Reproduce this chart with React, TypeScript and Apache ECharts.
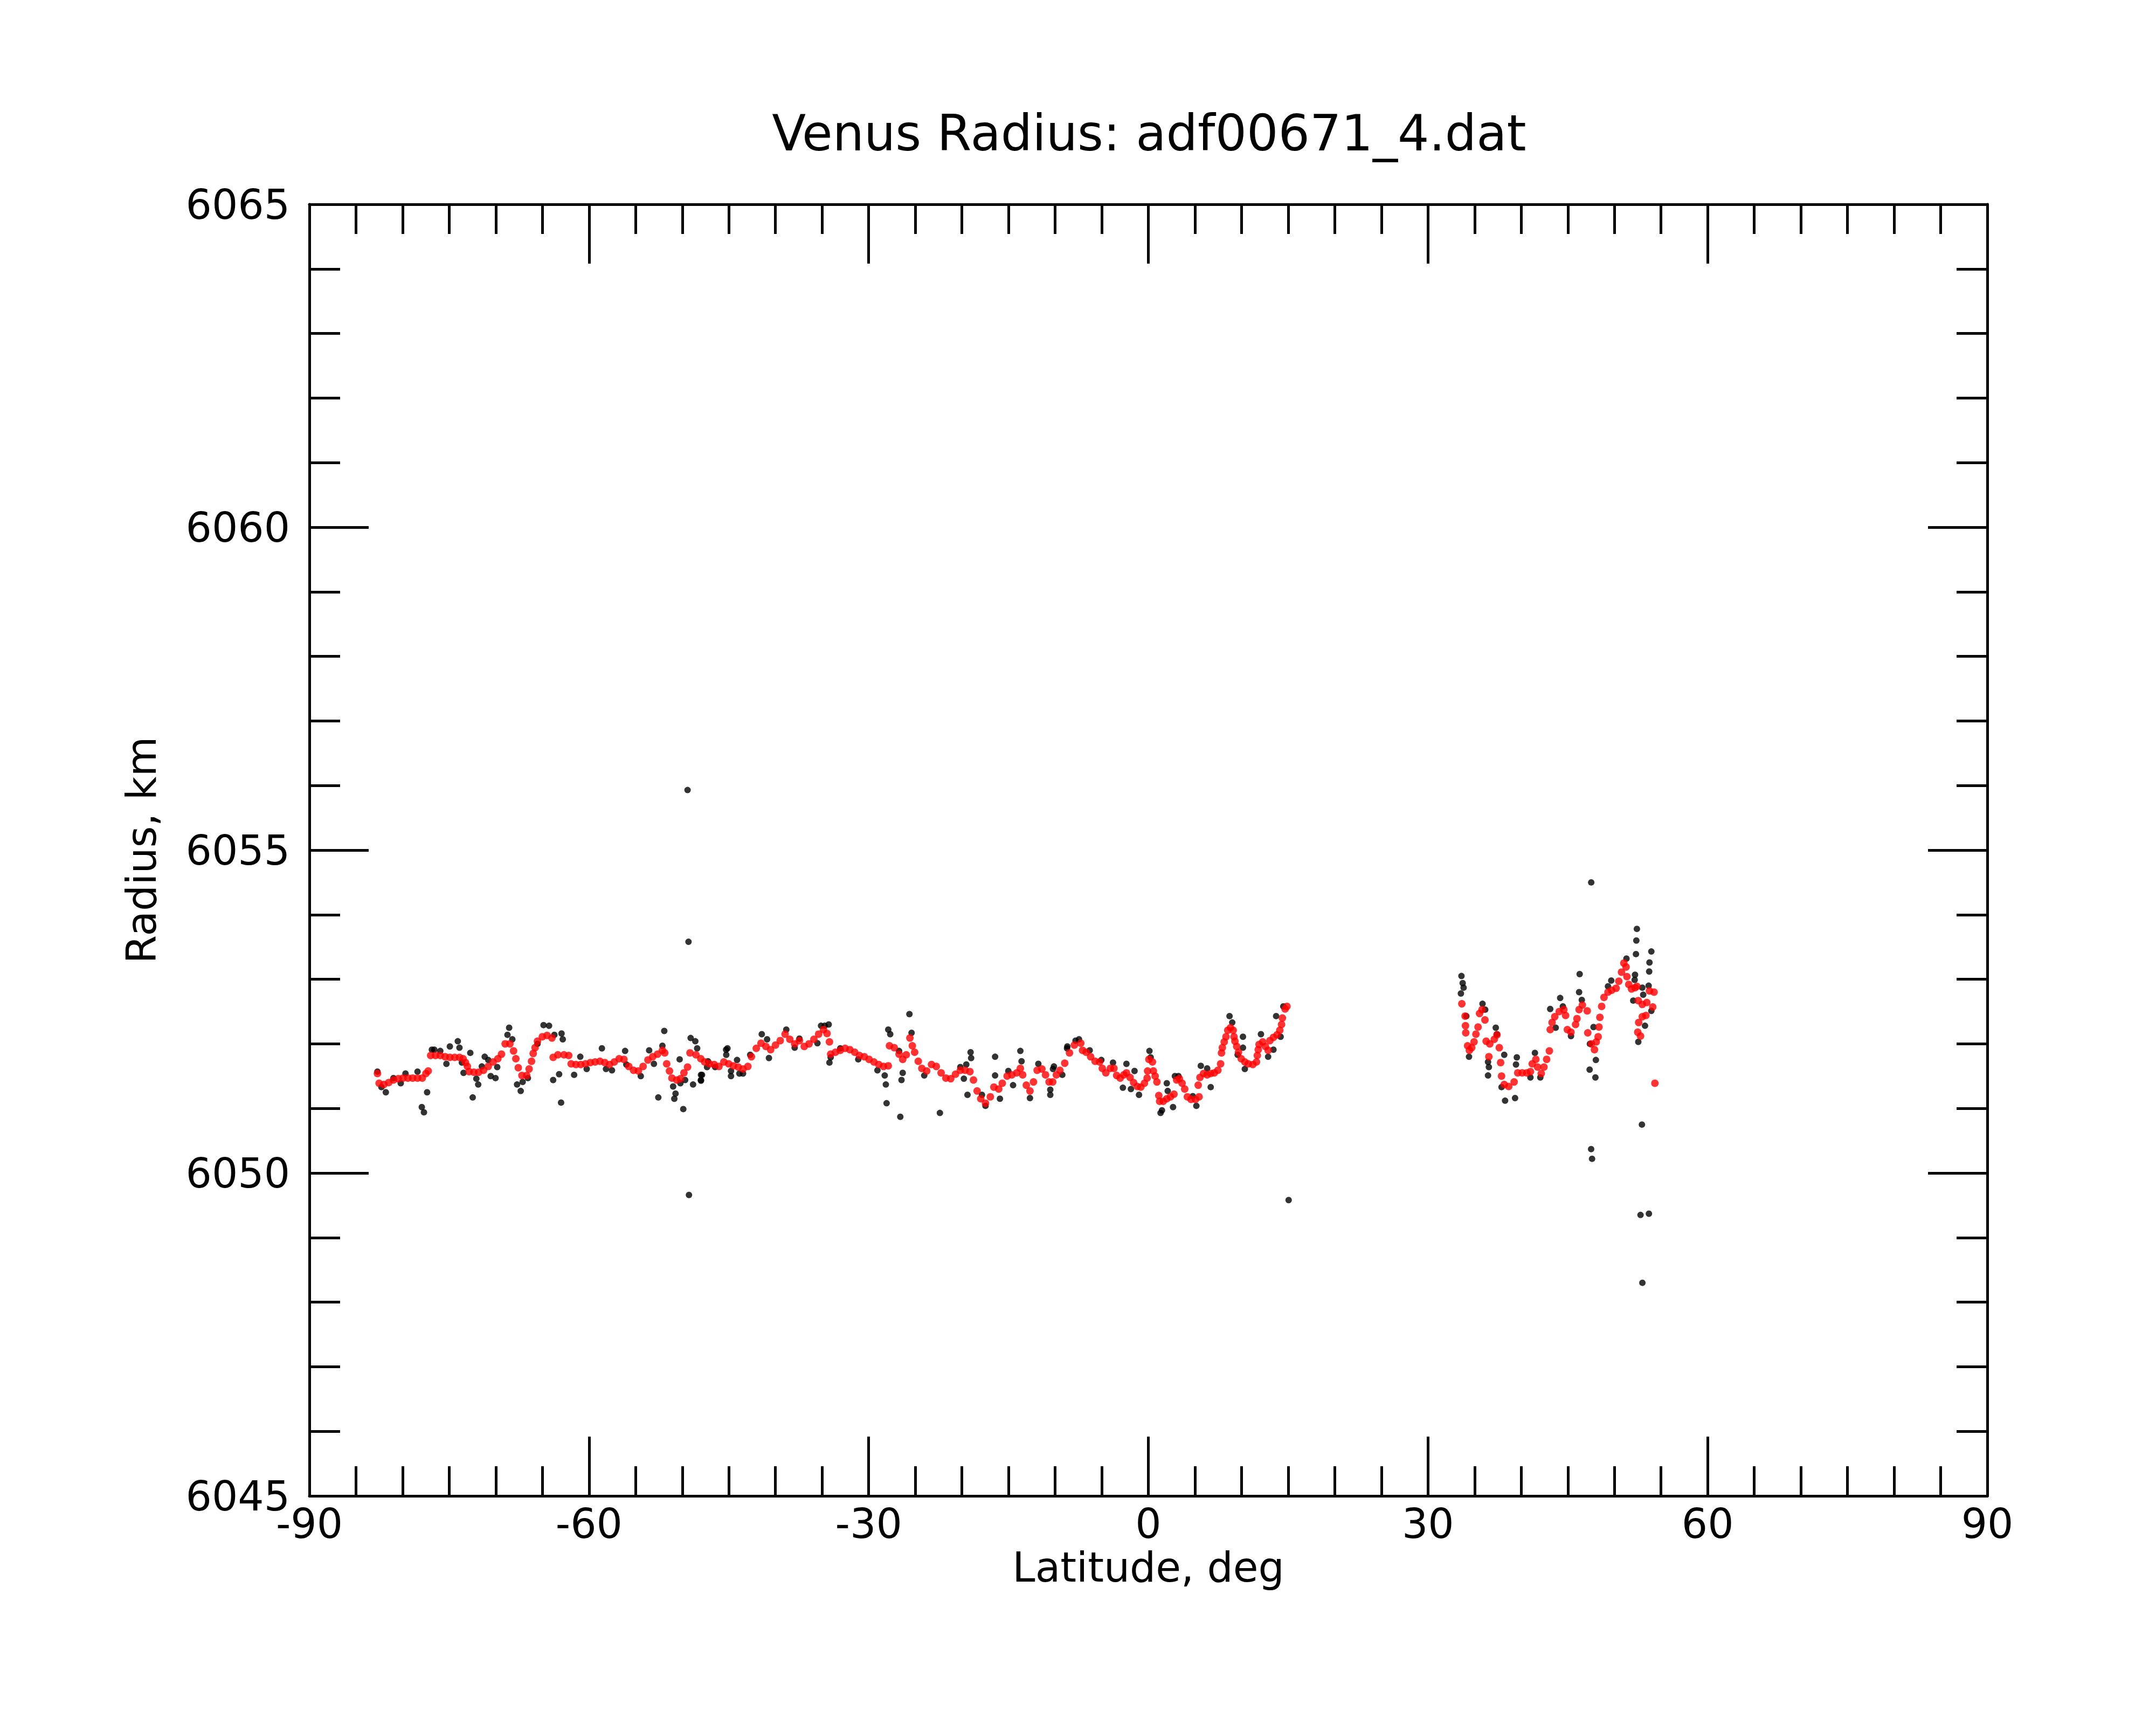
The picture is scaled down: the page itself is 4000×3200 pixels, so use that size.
import React, { useEffect, useRef } from "react";
import * as echarts from "echarts";

const TITLE = "Venus Radius: adf00671_4.dat";
const X_NAME = "Latitude, deg";
const Y_NAME = "Radius, km";
const FONT = "DejaVu Sans";

// smoothed profile (red), [latitude, radius]
const redSouth: [number, number][] = [
  [-82.7, 6051.54], [-82.52, 6051.39], [-82.01, 6051.37], [-81.49, 6051.4], [-80.98, 6051.44], [-80.46, 6051.46],
  [-79.95, 6051.47], [-79.43, 6051.47], [-78.92, 6051.47], [-78.4, 6051.47], [-77.89, 6051.47], [-77.5, 6051.54],
  [-77.25, 6051.58], [-76.99, 6051.82], [-76.47, 6051.82], [-75.96, 6051.82], [-75.44, 6051.8], [-74.93, 6051.79],
  [-74.41, 6051.79], [-73.9, 6051.79], [-73.51, 6051.77], [-73.25, 6051.71], [-73.05, 6051.65], [-72.87, 6051.57],
  [-72.35, 6051.56], [-71.84, 6051.56], [-71.32, 6051.59], [-70.81, 6051.65], [-70.29, 6051.72], [-69.78, 6051.77],
  [-69.39, 6051.84], [-69.0, 6052.0], [-68.49, 6052.0], [-68.1, 6051.89], [-67.85, 6051.77], [-67.59, 6051.63],
  [-67.2, 6051.51], [-66.69, 6051.51], [-66.43, 6051.61], [-66.17, 6051.73], [-65.99, 6051.85], [-65.79, 6051.94],
  [-65.53, 6052.04], [-65.01, 6052.11], [-64.5, 6052.13], [-63.98, 6052.09], [-63.85, 6051.79], [-63.34, 6051.83],
  [-62.69, 6051.83], [-62.18, 6051.82], [-61.92, 6051.69], [-61.41, 6051.68], [-60.89, 6051.68], [-60.38, 6051.69],
  [-59.86, 6051.71], [-59.35, 6051.72], [-58.83, 6051.73], [-58.31, 6051.71], [-57.8, 6051.68], [-57.29, 6051.72],
  [-56.77, 6051.77], [-56.26, 6051.76], [-55.74, 6051.65], [-55.22, 6051.59], [-54.71, 6051.58], [-54.2, 6051.65],
  [-53.68, 6051.75], [-53.17, 6051.8], [-52.65, 6051.84], [-52.13, 6051.9], [-51.88, 6051.86], [-51.67, 6051.69],
  [-51.37, 6051.58], [-51.11, 6051.47], [-50.59, 6051.44], [-50.2, 6051.46], [-49.82, 6051.55], [-49.43, 6051.64],
  [-49.17, 6051.86], [-48.53, 6051.83], [-48.01, 6051.77], [-47.6, 6051.72], [-47.09, 6051.69], [-46.57, 6051.68],
  [-46.06, 6051.65], [-45.54, 6051.72], [-45.02, 6051.69], [-44.51, 6051.66], [-43.99, 6051.64], [-43.48, 6051.61],
  [-42.96, 6051.65], [-42.58, 6051.8], [-42.06, 6051.93], [-41.55, 6052.01], [-41.03, 6051.96], [-40.52, 6051.91],
  [-40.0, 6051.98], [-39.49, 6052.05], [-38.97, 6052.15], [-38.46, 6052.07], [-37.94, 6052.0], [-37.43, 6052.05],
  [-36.91, 6051.96], [-36.4, 6052.0], [-35.88, 6052.07], [-35.37, 6052.15], [-34.85, 6052.22], [-34.47, 6052.16],
  [-34.21, 6052.03], [-34.08, 6051.84], [-33.57, 6051.87], [-33.05, 6051.9], [-32.53, 6051.93], [-32.02, 6051.91],
  [-31.5, 6051.87], [-30.99, 6051.82], [-30.47, 6051.8], [-29.96, 6051.76], [-29.44, 6051.72], [-28.92, 6051.68],
  [-28.41, 6051.65], [-27.9, 6051.66], [-27.77, 6051.97], [-27.26, 6051.94], [-26.74, 6051.84], [-26.35, 6051.76],
  [-25.97, 6051.83], [-25.58, 6052.09], [-25.32, 6051.97], [-25.07, 6051.87], [-24.68, 6051.73], [-24.3, 6051.62],
  [-23.78, 6051.58], [-23.26, 6051.68], [-22.75, 6051.65], [-22.23, 6051.55], [-21.72, 6051.47], [-21.2, 6051.46],
  [-20.69, 6051.53], [-20.17, 6051.59], [-19.66, 6051.59], [-19.14, 6051.57], [-18.76, 6051.44], [-18.37, 6051.27],
  [-17.98, 6051.15], [-17.47, 6051.08], [-16.95, 6051.18], [-16.57, 6051.33], [-16.05, 6051.3], [-15.67, 6051.39],
  [-15.15, 6051.5], [-14.64, 6051.52], [-14.12, 6051.55], [-13.73, 6051.62], [-13.48, 6051.52], [-13.09, 6051.36],
  [-12.7, 6051.27], [-12.32, 6051.41], [-11.93, 6051.59], [-11.42, 6051.61], [-11.03, 6051.52], [-10.65, 6051.41],
  [-10.26, 6051.41], [-9.87, 6051.52], [-9.49, 6051.59], [-8.97, 6051.7], [-8.46, 6051.86], [-7.94, 6051.98],
  [-7.25, 6052.01], [-7.06, 6051.9], [-6.67, 6051.87], [-6.19, 6051.8], [-5.71, 6051.73], [-5.23, 6051.72],
  [-4.94, 6051.62], [-4.56, 6051.55], [-4.08, 6051.62], [-3.69, 6051.62], [-3.4, 6051.51], [-3.02, 6051.47],
  [-2.63, 6051.52], [-2.35, 6051.55], [-1.96, 6051.48], [-1.58, 6051.4], [-1.19, 6051.34], [-0.81, 6051.33],
  [-0.42, 6051.39], [-0.13, 6051.47], [-0.08, 6051.58], [0.06, 6051.76], [0.44, 6051.72], [0.54, 6051.58],
  [0.73, 6051.5], [0.92, 6051.41], [1.12, 6051.2], [1.21, 6051.11], [1.6, 6051.11], [1.98, 6051.15],
  [2.37, 6051.18], [2.75, 6051.22], [3.04, 6051.44], [3.33, 6051.46], [3.62, 6051.39], [3.9, 6051.3],
  [4.19, 6051.18], [4.58, 6051.14], [5.06, 6051.14], [5.44, 6051.18], [5.35, 6051.36], [5.54, 6051.48],
  [5.92, 6051.54], [6.31, 6051.52], [6.69, 6051.54], [7.08, 6051.55], [7.46, 6051.59], [7.75, 6051.69],
  [7.85, 6051.86], [7.94, 6051.94], [8.14, 6052.03], [8.33, 6052.11], [8.52, 6052.21], [8.81, 6052.25],
  [9.1, 6052.21], [9.19, 6052.11], [9.29, 6052.04], [9.48, 6051.96], [9.67, 6051.87], [9.96, 6051.77],
  [10.35, 6051.72], [10.73, 6051.69], [11.21, 6051.68], [11.6, 6051.72], [11.69, 6051.82], [11.79, 6051.91],
  [11.88, 6051.99], [12.27, 6052.03], [12.56, 6051.96], [12.85, 6051.9], [13.04, 6052.05], [13.42, 6052.1],
  [13.81, 6052.14], [14.1, 6052.21], [14.29, 6052.3], [14.38, 6052.4], [14.67, 6052.54], [14.87, 6052.58],
];

const redNorth: [number, number][] = [
  [33.63, 6052.62], [33.98, 6052.43], [34.02, 6052.28], [34.05, 6052.17], [34.25, 6051.97], [34.44, 6051.9],
  [34.69, 6051.94], [34.94, 6052.03], [35.14, 6052.15], [35.37, 6052.26], [35.53, 6052.47], [35.8, 6052.53],
  [36.11, 6052.37], [36.24, 6052.04], [36.53, 6051.8], [36.63, 6052.0], [37.11, 6052.07], [37.4, 6052.14],
  [37.65, 6051.94], [37.79, 6051.71], [37.89, 6051.5], [38.18, 6051.37], [38.66, 6051.34], [39.24, 6051.41],
  [39.63, 6051.55], [40.11, 6051.55], [40.6, 6051.55], [40.99, 6051.57], [41.18, 6051.69], [41.57, 6051.76],
  [41.76, 6051.64], [42.15, 6051.54], [42.44, 6051.64], [42.73, 6051.76], [43.02, 6051.89], [43.11, 6052.22],
  [43.31, 6052.33], [43.6, 6052.42], [44.08, 6052.5], [44.57, 6052.53], [44.76, 6052.44], [44.95, 6052.22],
  [45.34, 6052.18], [45.83, 6052.3], [45.98, 6052.39], [46.21, 6052.53], [46.56, 6052.6], [47.08, 6052.51],
  [47.14, 6052.17], [47.53, 6052.0], [47.86, 6051.91], [48.05, 6052.03], [48.25, 6052.11], [48.34, 6052.26],
  [48.44, 6052.41], [48.63, 6052.58], [48.88, 6052.72], [49.31, 6052.8], [49.7, 6052.83], [50.18, 6052.86],
  [50.47, 6052.97], [50.76, 6053.11], [51.01, 6053.25], [51.25, 6053.19], [51.34, 6053.04], [51.54, 6052.92],
  [51.83, 6052.85], [52.21, 6052.87], [52.41, 6052.89], [52.56, 6052.67], [52.99, 6052.61], [53.47, 6052.64],
  [53.76, 6052.82], [54.25, 6052.8], [54.11, 6052.57], [53.38, 6052.44], [52.99, 6052.42], [52.6, 6052.33],
  [52.5, 6052.18], [52.8, 6052.12], [54.34, 6051.39],
];

// raw measurements (black), [latitude, radius]
const blackSouth: [number, number][] = [
  [-82.7, 6051.57], [-82.27, 6051.33], [-81.8, 6051.25], [-80.98, 6051.47], [-80.2, 6051.39], [-79.69, 6051.54],
  [-78.4, 6051.57], [-77.94, 6051.02], [-77.71, 6050.94], [-77.37, 6051.25], [-76.86, 6051.91], [-76.6, 6051.91],
  [-75.96, 6051.89], [-75.3, 6051.69], [-74.93, 6051.96], [-74.08, 6052.04], [-73.9, 6051.94], [-73.64, 6051.71],
  [-73.46, 6051.55], [-72.74, 6051.86], [-72.48, 6051.17], [-72.09, 6051.46], [-71.89, 6051.37], [-71.5, 6051.65],
  [-71.19, 6051.8], [-70.81, 6051.75], [-70.55, 6051.5], [-70.03, 6051.47], [-69.85, 6051.64], [-68.75, 6052.14],
  [-68.57, 6052.25], [-68.23, 6052.07], [-67.72, 6051.37], [-67.33, 6051.27], [-67.12, 6051.41], [-66.56, 6051.47],
  [-65.53, 6052.0], [-64.88, 6052.29], [-64.29, 6052.28], [-63.72, 6052.14], [-62.95, 6052.16], [-62.82, 6052.07],
  [-63.85, 6051.44], [-63.21, 6051.53], [-63.0, 6051.09], [-61.6, 6051.52], [-60.94, 6051.8], [-60.25, 6051.61],
  [-58.62, 6051.93], [-58.18, 6051.61], [-57.54, 6051.59], [-56.13, 6051.89], [-56.0, 6051.68], [-54.45, 6051.5],
  [-53.55, 6051.9], [-53.04, 6051.69], [-52.57, 6051.17], [-52.13, 6051.97], [-51.93, 6052.2], [-50.98, 6051.34],
  [-50.85, 6051.15], [-50.72, 6051.23], [-50.28, 6051.76], [-50.2, 6051.39], [-49.89, 6050.99], [-49.69, 6051.44],
  [-49.1, 6052.09], [-48.6, 6052.04], [-48.4, 6051.93], [-48.84, 6051.37], [-48.0, 6051.44], [-47.88, 6051.52],
  [-47.24, 6051.73], [-46.47, 6051.64], [-45.3, 6051.91], [-49.43, 6055.93], [-49.33, 6053.58], [-49.28, 6049.66],
  [-47.99, 6051.52], [-47.99, 6051.43], [-47.34, 6051.64], [-45.28, 6051.83], [-45.15, 6051.93], [-44.77, 6051.58],
  [-44.77, 6051.5], [-44.12, 6051.75], [-43.87, 6051.54], [-43.48, 6051.54], [-42.71, 6051.83], [-41.47, 6052.15],
  [-40.9, 6052.07], [-40.7, 6051.78], [-38.84, 6052.22], [-37.94, 6051.94], [-37.43, 6052.08], [-35.5, 6052.01],
  [-35.11, 6052.28], [-34.72, 6052.28], [-34.29, 6052.3], [-34.21, 6051.71], [-34.08, 6051.79], [-33.05, 6051.93],
  [-31.12, 6051.76], [-29.06, 6051.59], [-28.28, 6051.51], [-28.16, 6051.37], [-28.08, 6051.08], [-27.9, 6052.22],
  [-27.69, 6052.15], [-26.74, 6051.89], [-26.61, 6050.87], [-26.35, 6051.55], [-26.48, 6051.44], [-25.63, 6052.46],
  [-25.4, 6052.17], [-24.04, 6051.51], [-22.36, 6050.93], [-20.17, 6051.64], [-19.79, 6051.46], [-19.53, 6051.68],
  [-19.4, 6051.21], [-19.07, 6051.87], [-19.01, 6051.78], [-17.85, 6051.21], [-17.47, 6051.04], [-16.44, 6051.8],
  [-16.44, 6051.51], [-15.92, 6051.15], [-15.02, 6051.58], [-14.51, 6051.36], [-13.73, 6051.89], [-13.6, 6051.73],
  [-12.7, 6051.16], [-11.8, 6051.69], [-10.52, 6051.21], [-10.52, 6051.29], [-10.13, 6051.65], [-9.23, 6051.52],
  [-8.72, 6051.93], [-7.81, 6052.05], [-10.23, 6051.61], [-8.69, 6051.96], [-7.44, 6052.07], [-6.29, 6051.9],
  [-5.04, 6051.75], [-3.79, 6051.71], [-2.73, 6051.32], [-2.35, 6051.69], [-1.87, 6051.3], [-1.48, 6051.58],
  [-1.0, 6051.21], [0.12, 6051.89], [0.25, 6051.79], [1.31, 6050.93], [1.46, 6050.97], [1.98, 6051.39],
  [2.08, 6051.27], [2.65, 6051.02], [2.85, 6051.5], [3.23, 6051.5], [5.15, 6051.04], [4.77, 6051.19],
  [5.63, 6051.66], [6.31, 6051.62], [6.69, 6051.33], [8.71, 6052.43], [9.0, 6052.33], [9.58, 6051.83],
  [10.15, 6052.11], [10.15, 6051.94], [10.35, 6051.61], [12.08, 6052.15], [12.85, 6051.8], [13.42, 6051.91],
  [13.71, 6052.43], [14.19, 6052.11], [14.48, 6052.58], [15.05, 6049.58],
];

const blackNorth: [number, number][] = [
  [33.59, 6053.05], [33.72, 6052.94], [33.82, 6052.87], [33.53, 6052.78], [34.11, 6052.43], [34.4, 6051.8],
  [35.85, 6052.62], [36.14, 6052.53], [37.27, 6052.25], [37.4, 6052.15], [36.44, 6051.72], [36.53, 6051.64],
  [36.44, 6051.51], [38.18, 6051.83], [37.89, 6051.33], [38.27, 6051.12], [39.34, 6051.16], [39.53, 6051.79],
  [39.44, 6051.68], [41.47, 6051.86], [40.99, 6051.48], [42.05, 6051.48], [43.11, 6052.54], [44.18, 6052.71],
  [44.47, 6052.58], [43.7, 6052.25], [45.34, 6052.12], [46.27, 6053.08], [46.21, 6052.8], [46.5, 6052.68],
  [47.76, 6052.26], [47.37, 6052.0], [48.01, 6051.75], [47.34, 6051.6], [47.96, 6051.48], [49.66, 6052.98],
  [49.31, 6052.89], [51.29, 6053.32], [52.41, 6053.78], [52.35, 6053.6], [52.31, 6053.39], [52.21, 6053.07],
  [52.17, 6052.99], [52.02, 6052.67], [52.99, 6052.87], [53.09, 6052.76], [53.96, 6053.43], [53.76, 6053.26],
  [53.73, 6053.12], [53.67, 6052.9], [53.96, 6052.51], [53.28, 6052.28], [52.56, 6052.03], [52.95, 6050.75],
  [47.51, 6054.5], [47.5, 6050.37], [47.6, 6050.22], [52.8, 6049.35], [53.7, 6049.37], [53.0, 6048.3],
];

const X_MIN = -90;
const X_MAX = 90;
const X_STEP = 30;
const Y_MIN = 6045;
const Y_MAX = 6065;
const Y_STEP = 5;

export default function App() {
  const ref = useRef<HTMLDivElement>(null);

  useEffect(() => {
    document.body.style.margin = "0";
    if (!ref.current) return;
    const chart = echarts.init(ref.current, undefined, { renderer: "svg" });
    const lineStyle = { color: "#000", width: 5 };
    const labelStyle = { color: "#000", fontSize: 76, fontFamily: FONT };
    const xBase = (pos: "bottom" | "top", main: boolean) => ({
      type: "value",
      min: X_MIN,
      max: X_MAX,
      interval: X_STEP,
      position: pos,
      axisLine: { show: true, onZero: false, lineStyle },
      axisTick: { show: true, inside: true, length: 110, lineStyle },
      minorTick: { show: true, splitNumber: 6, length: 55, lineStyle },
      splitLine: { show: false },
      minorSplitLine: { show: false },
      axisLabel: { show: main, margin: 13, formatter: (v: number) => String(v), ...labelStyle },
      name: main ? X_NAME : "",
      nameLocation: "middle",
      nameGap: 94,
      nameTextStyle: labelStyle,
    });
    const yBase = (pos: "left" | "right", main: boolean) => ({
      type: "value",
      min: Y_MIN,
      max: Y_MAX,
      interval: Y_STEP,
      position: pos,
      axisLine: { show: true, onZero: false, lineStyle },
      axisTick: { show: true, inside: true, length: 110, lineStyle },
      minorTick: { show: true, splitNumber: 5, length: 57, lineStyle },
      splitLine: { show: false },
      minorSplitLine: { show: false },
      axisLabel: { show: main, margin: 36, formatter: (v: number) => String(v), ...labelStyle },
      name: main ? Y_NAME : "",
      nameLocation: "middle",
      nameGap: 274,
      nameTextStyle: labelStyle,
    });
    chart.setOption({
      animation: false,
      backgroundColor: "#fff",
      grid: { left: 574, right: 313, top: 379, bottom: 425, containLabel: false },
      graphic: [
        {
          type: "text",
          x: 2132,
          y: 247,
          style: {
            text: TITLE,
            fontSize: 92,
            fontFamily: FONT,
            fill: "#000",
            align: "center",
            verticalAlign: "middle",
          },
        },
      ],
      xAxis: [xBase("bottom", true), xBase("top", false)],
      yAxis: [yBase("left", true), yBase("right", false)],
      series: [
        {
          name: "raw",
          type: "scatter",
          xAxisIndex: 0,
          yAxisIndex: 0,
          symbol: "circle",
          symbolSize: 12,
          itemStyle: { color: "#000" },
          data: [...blackSouth, ...blackNorth],
          silent: true,
        },
        {
          name: "smoothed",
          type: "scatter",
          xAxisIndex: 0,
          yAxisIndex: 0,
          symbol: "circle",
          symbolSize: 14,
          itemStyle: { color: "#ff0000" },
          data: [...redSouth, ...redNorth],
          silent: true,
        },
      ],
    });
    return () => chart.dispose();
  }, []);

  return <div ref={ref} style={{ width: 4000, height: 3200 }} />;
}
